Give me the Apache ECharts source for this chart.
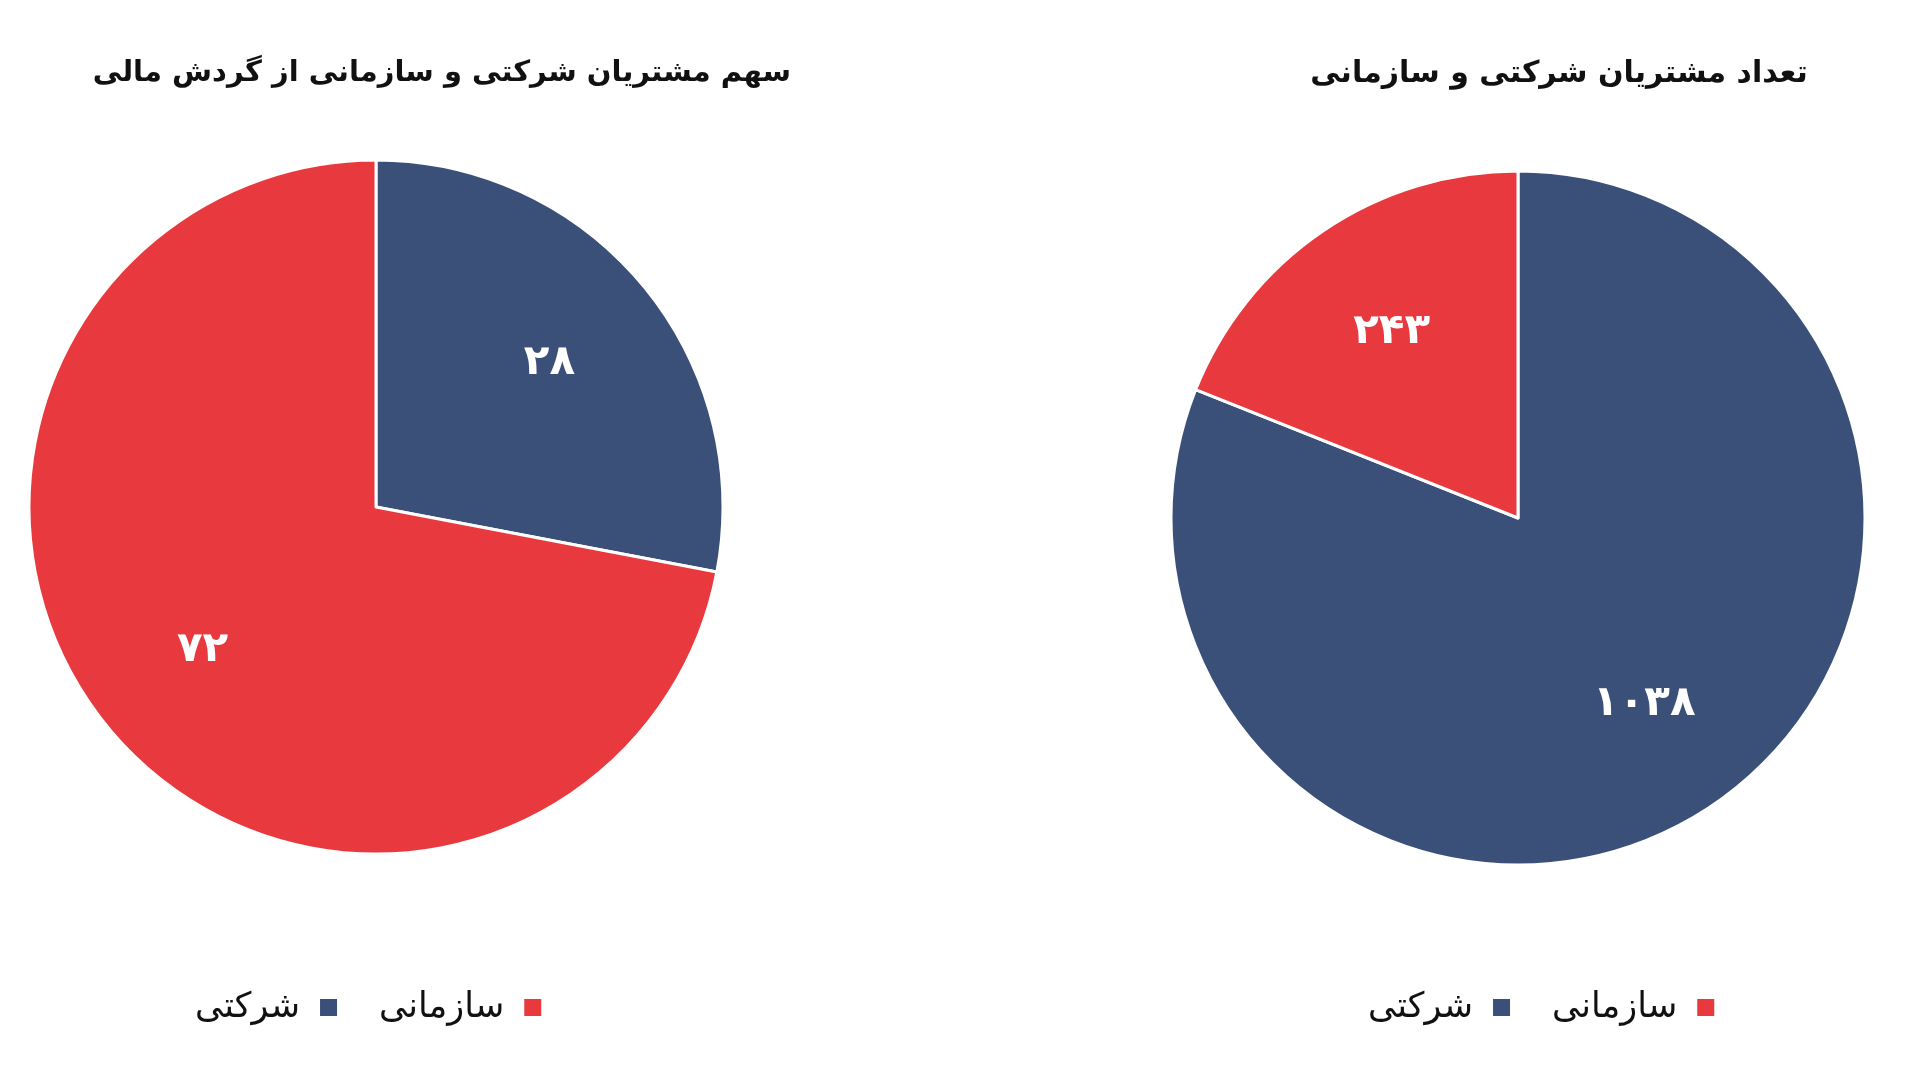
<!DOCTYPE html>
<html><head><meta charset="utf-8">
<script src="https://cdn.jsdelivr.net/npm/echarts@6/dist/echarts.min.js"></script>
<style>html,body{margin:0;padding:0;background:#fff}#c{width:1920px;height:1073px}</style>
</head><body><div id="c"></div>
<script>
const categories = ['شرکتی', 'سازمانی'];
const shareValues = [28, 72];
const shareLabels = ['۲۸', '۷۲'];
const countValues = [1038, 243];
const countLabels = ['۱۰۳۸', '۲۴۳'];
const titles = ['سهم مشتریان شرکتی و سازمانی از گردش مالی', 'تعداد مشتریان شرکتی و سازمانی'];
const colors = ['#3A5078', '#E83A3E'];

const FONT = '"DejaVu Sans", "Noto Sans", sans-serif';
const R = 347;

function pieBase(center, values) {
  return {
    type: 'pie', center: center, radius: [0, R], startAngle: 90, clockwise: true,
    data: categories.map((c, i) => ({ name: c, value: values[i], itemStyle: { color: colors[i] } })),
    itemStyle: { borderColor: '#fff', borderWidth: 3 },
    label: { show: false }, labelLine: { show: false }, silent: true, animation: false
  };
}
function pieLabels(center, values, labels) {
  return {
    type: 'pie', center: center, radius: [R * 0.28, R], startAngle: 90, clockwise: true,
    data: categories.map((c, i) => ({ name: c, value: values[i] })),
    itemStyle: { color: 'transparent', borderWidth: 0 },
    label: { show: true, position: 'inside', color: '#fff', fontSize: 42, fontWeight: 'bold', fontFamily: FONT,
      formatter: p => labels[p.dataIndex] },
    labelLine: { show: false }, silent: true, animation: false, legendHoverLink: false
  };
}
function legendCfg(left) {
  return {
    left: left, top: 985, orient: 'horizontal', align: 'right', itemGap: 40,
    itemWidth: 19, itemHeight: 19, icon: 'rect', selectedMode: false,
    data: [
      { name: categories[0], itemStyle: { color: colors[0] } },
      { name: categories[1], itemStyle: { color: colors[1] } }
    ],
    textStyle: { fontSize: 35, color: '#111', fontFamily: FONT, padding: [0, 14, 0, 0] }
  };
}
const chart = echarts.init(document.getElementById('c'), null, { renderer: 'canvas' });
chart.setOption({
  backgroundColor: '#fff',
  animation: false,
  title: [
    { text: titles[0], left: 437, top: 54, textAlign: 'center', textStyle: { fontSize: 29, fontWeight: 'bold', color: '#111', fontFamily: FONT } },
    { text: titles[1], left: 1554, top: 54, textAlign: 'center', textStyle: { fontSize: 30, fontWeight: 'bold', color: '#111', fontFamily: FONT } }
  ],
  legend: [legendCfg(190), legendCfg(1363)],
  series: [
    pieBase([376, 507], shareValues),
    pieBase([1518, 518], countValues),
    pieLabels([376, 507], shareValues, shareLabels),
    pieLabels([1518, 518], countValues, countLabels)
  ]
});
</script></body></html>
